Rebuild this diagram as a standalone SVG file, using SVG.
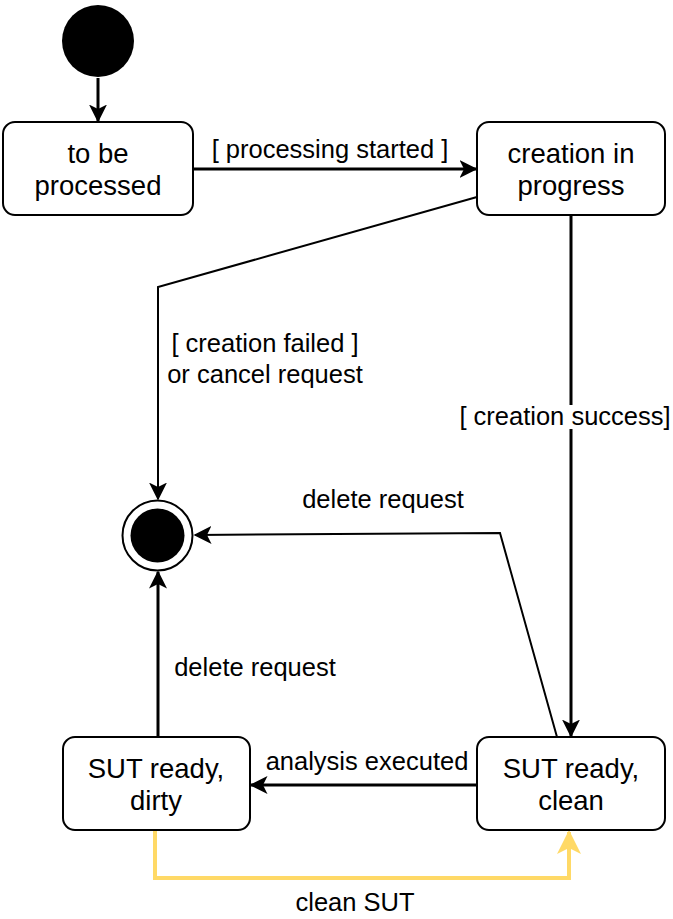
<svg xmlns="http://www.w3.org/2000/svg" width="673" height="919" viewBox="0 0 673 919">
<defs>
<style>
.box{fill:#fff;stroke:#000;stroke-width:2}
.t{font-family:"Liberation Sans",Arial,sans-serif;font-size:27.5px;text-anchor:middle;fill:#000}
.l{font-family:"Liberation Sans",Arial,sans-serif;font-size:25.5px;text-anchor:middle;fill:#000}
.c{fill:none;stroke:#000;stroke-width:2}
.c3{fill:none;stroke:#000;stroke-width:3}
</style>
<marker id="a3" viewBox="0 0 12 12" refX="11" refY="6" markerWidth="18" markerHeight="18" markerUnits="userSpaceOnUse" orient="auto"><path d="M0,0 L12,6 L0,12 L3,6 Z" fill="#000"/></marker>
<marker id="ay" viewBox="0 0 12 12" refX="11" refY="6" markerWidth="26" markerHeight="24" markerUnits="userSpaceOnUse" orient="auto"><path d="M0,0 L12,6 L0,12 L3,6 Z" fill="#FFD966"/></marker>
</defs>
<g id="connectors">
<line class="c3" x1="98" y1="78" x2="98" y2="121" marker-end="url(#a3)"/>
<line class="c3" x1="193" y1="169" x2="476" y2="169" marker-end="url(#a3)"/>
<polyline class="c" points="477,197 158,287 158,499" marker-end="url(#a3)"/>
<line class="c3" x1="571" y1="215" x2="571" y2="736" marker-end="url(#a3)"/>
<polyline class="c" points="557,737 500,533 195,535" marker-end="url(#a3)"/>
<line class="c3" x1="158" y1="737" x2="158" y2="572" marker-end="url(#a3)"/>
<line class="c3" x1="477" y1="785" x2="251" y2="785" marker-end="url(#a3)"/>
<polyline fill="none" stroke="#FFD966" stroke-width="4" points="155,830 155,878 569,878 569,832" marker-end="url(#ay)"/>
<text class="l" x="330" y="158">[ processing started ]</text>
<text class="l" x="265" y="352">[ creation failed ]</text>
<text class="l" x="265" y="383">or cancel request</text>
<rect x="458" y="405" width="213" height="24" fill="#fff"/>
<text class="l" x="565" y="425">[ creation success]</text>
<text class="l" x="383" y="508">delete request</text>
<text class="l" x="255" y="676">delete request</text>
<text class="l" x="367" y="770">analysis executed</text>
<text class="l" x="355" y="911">clean SUT</text>
</g>
<g id="initial"><circle cx="98" cy="41" r="36" fill="#000"/></g>
<g id="toBeProcessed"><rect class="box" x="3" y="122" width="190" height="93" rx="12"/>
<text class="t" x="98" y="163">to be</text><text class="t" x="98" y="195">processed</text></g>
<g id="creationInProgress"><rect class="box" x="477" y="122" width="188" height="93" rx="12"/>
<text class="t" x="571" y="163">creation in</text><text class="t" x="571" y="195">progress</text></g>
<g id="final"><circle cx="157.5" cy="535.5" r="35" fill="#fff" stroke="#000" stroke-width="2"/><circle cx="157.5" cy="535.5" r="27" fill="#000"/></g>
<g id="sutDirty"><rect class="box" x="63" y="737" width="187" height="93" rx="12"/>
<text class="t" x="156" y="778">SUT ready,</text><text class="t" x="156" y="810">dirty</text></g>
<g id="sutClean"><rect class="box" x="477" y="737" width="188" height="93" rx="12"/>
<text class="t" x="571" y="778">SUT ready,</text><text class="t" x="571" y="810">clean</text></g>
</svg>
